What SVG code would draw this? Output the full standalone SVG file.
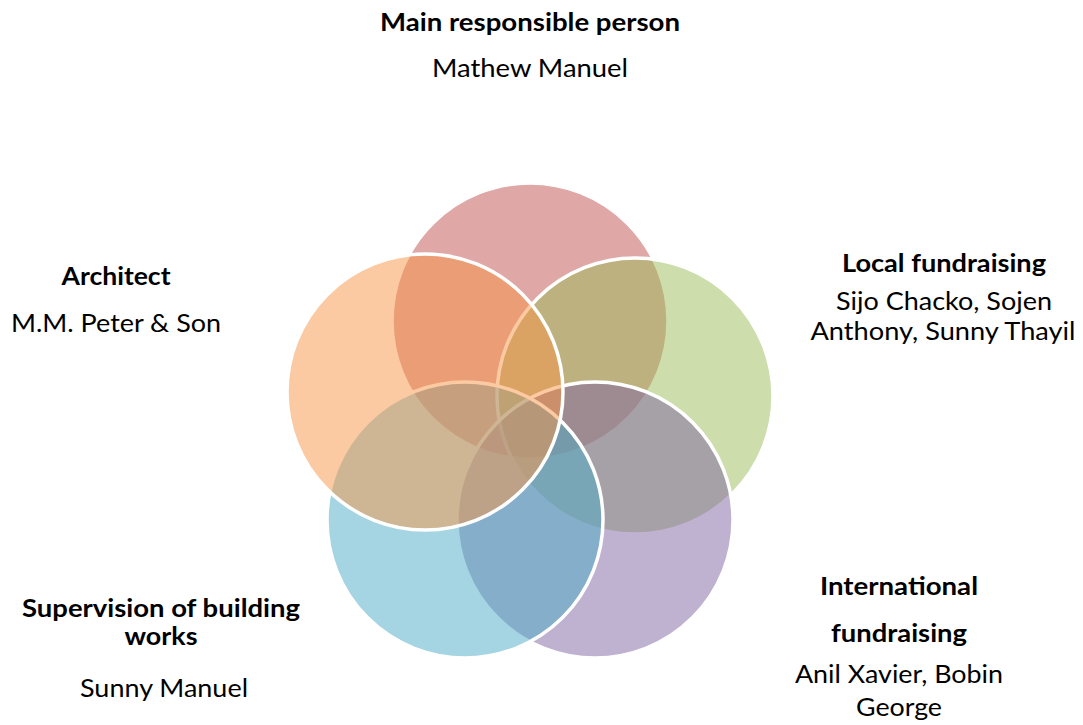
<svg xmlns="http://www.w3.org/2000/svg" width="1083" height="725" viewBox="0 0 1083 725">
<style>
.c{stroke:#fff;stroke-width:3.5;fill-opacity:0.5}
.h{font-family:Lato,"Open Sans","Liberation Sans",sans-serif;font-weight:bold;font-size:25px;fill:#000;text-anchor:middle}
.t{font-family:Lato,"Open Sans","Liberation Sans",sans-serif;font-size:25px;fill:#000;text-anchor:middle}
</style>
<rect width="1083" height="725" fill="#fff"/>
<g id="main">
<circle class="c" cx="530" cy="321" r="138" fill="#C0504D"/>
<text class="h" x="530" y="31" textLength="300" lengthAdjust="spacingAndGlyphs">Main responsible person</text>
<text class="t" x="530" y="77" textLength="196" lengthAdjust="spacingAndGlyphs">Mathew Manuel</text>
</g>
<g id="local">
<circle class="c" cx="635" cy="396" r="138" fill="#9BBB59"/>
<text class="h" x="944" y="272" textLength="204" lengthAdjust="spacingAndGlyphs">Local fundraising</text>
<text class="t" x="944" y="310" textLength="216" lengthAdjust="spacingAndGlyphs">Sijo Chacko, Sojen</text>
<text class="t" x="943" y="340" textLength="265" lengthAdjust="spacingAndGlyphs">Anthony, Sunny Thayil</text>
</g>
<g id="international">
<circle class="c" cx="595" cy="520" r="138" fill="#8064A2"/>
<text class="h" x="899" y="595" textLength="158" lengthAdjust="spacingAndGlyphs">International</text>
<text class="h" x="899" y="642" textLength="136" lengthAdjust="spacingAndGlyphs">fundraising</text>
<text class="t" x="899" y="683" textLength="208" lengthAdjust="spacingAndGlyphs">Anil Xavier, Bobin</text>
<text class="t" x="899" y="716" textLength="86" lengthAdjust="spacingAndGlyphs">George</text>
</g>
<g id="supervision">
<circle class="c" cx="465" cy="520" r="138" fill="#4BACC6"/>
<text class="h" x="161" y="617" textLength="278" lengthAdjust="spacingAndGlyphs">Supervision of building</text>
<text class="h" x="161" y="645" textLength="73" lengthAdjust="spacingAndGlyphs">works</text>
<text class="t" x="164" y="697" textLength="168" lengthAdjust="spacingAndGlyphs">Sunny Manuel</text>
</g>
<g id="architect">
<circle class="c" cx="425" cy="392" r="138" fill="#F79646"/>
<text class="h" x="116" y="285" textLength="109" lengthAdjust="spacingAndGlyphs">Architect</text>
<text class="t" x="116" y="332" textLength="210" lengthAdjust="spacingAndGlyphs">M.M. Peter &amp; Son</text>
</g>
<g id="connectors"/>
</svg>
